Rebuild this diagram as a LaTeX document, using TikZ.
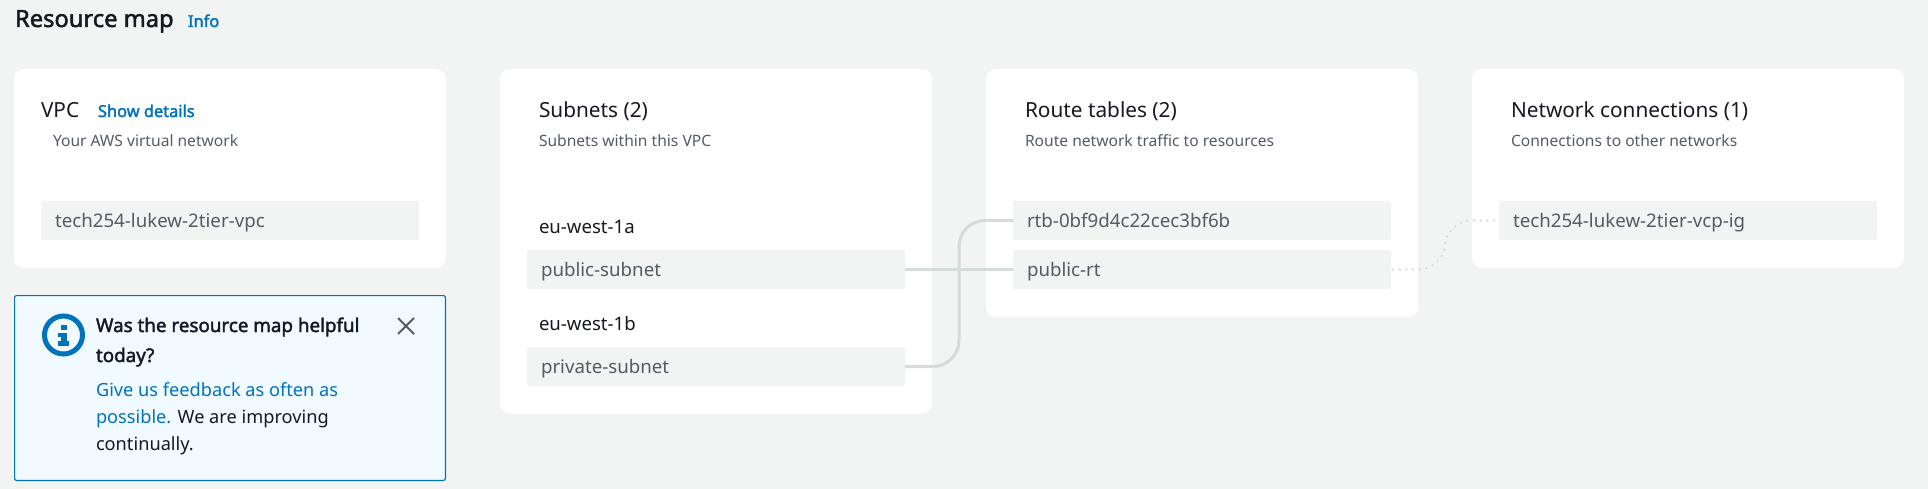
\documentclass[tikz,border=0pt]{standalone}
\usepackage{fontspec}
\setmainfont{Noto Sans}[AutoFakeBold=2]
\definecolor{pagebg}{HTML}{F2F3F3}
\definecolor{ink}{HTML}{16191F}
\definecolor{muted}{HTML}{545B64}
\definecolor{linkblue}{HTML}{0073BB}
\definecolor{noteFill}{HTML}{F1FAFF}
\definecolor{wire}{HTML}{D5DBDB}
\newcommand{\fs}[1]{\fontsize{#1}{#1}\selectfont}
\tikzset{
  x=1pt,y=-1pt,
  txt/.style={anchor=base west,inner sep=0pt,outer sep=0pt},
  cardbox/.style={fill=white,rounded corners=10pt},
  pill/.style={fill=pagebg,rounded corners=2pt,minimum width=378pt,minimum height=39pt,inner sep=0pt,outer sep=0pt},
  title/.style={txt,text=ink,font=\fs{23.7}\bfseries},
  head/.style={txt,text=ink,font=\fs{20.8}},
  sub/.style={txt,text=muted,font=\fs{15.6}},
  linkb/.style={txt,text=linkblue,font=\fs{16.4}\bfseries},
  item/.style={txt,text=muted,font=\fs{18.7}},
  zone/.style={txt,text=ink,font=\fs{18.6}},
  note/.style={txt,text=ink,font=\fs{18.2}},
  noteb/.style={txt,text=ink,font=\fs{18.8}\bfseries},
  wirebase/.style={draw=wire,line width=3pt},
  wiredot/.style={draw=wire,line width=2.6pt,line cap=round,dash pattern=on 0pt off 6.7pt},
}
\begin{document}
\begin{tikzpicture}
\fill[pagebg] (0,0) rectangle (1928,489);
\useasboundingbox (0,0) rectangle (1928,489);
% cards
\fill[cardbox] (14,69) rectangle (446,268);
\fill[cardbox] (500,69) rectangle (932,414);
\fill[cardbox] (986,69) rectangle (1418,317);
\fill[cardbox] (1472,69) rectangle (1904,268);
% feedback panel
\draw[fill=noteFill,draw=linkblue,line width=1.2pt,rounded corners=2pt] (14.6,295.6) rectangle (445.4,480.4);
% pills
\node[pill] (vpc) at (230,220.5) {};
\node[pill] (pubsub) at (716,269.5) {};
\node[pill] (privsub) at (716,366.5) {};
\node[pill] (rtb) at (1202,220.5) {};
\node[pill] (pubrt) at (1202,269.5) {};
\node[pill] (igw) at (1688,220.5) {};
% connectors
\coordinate (riseA) at (959,294);
\coordinate (dotA) at (1418,269.5);
\coordinate (dotB) at (1445,245);
\coordinate (dotC) at (1472,220.5);
\draw[wirebase] (pubsub.east) -- (pubrt.west);
\draw[wirebase,rounded corners=26pt] (privsub.east) -| (riseA) |- (rtb.west);
\draw[wiredot] ([xshift=2pt]pubrt.east) -- (dotA) .. controls +(18,0) and +(0,9) .. (dotB) .. controls +(0,-9) and +(-18,0) .. (dotC) -- ([xshift=-2pt]igw.west);
% texts
\node[title] (t0) at (15,27) {Resource map};
\node[linkb] (t1) at (188,27) {Info};
\node[head] (t2) at (41,118) {VPC};
\node[linkb] (t3) at (98,117) {Show details};
\node[sub] (t4) at (53,146.5) {Your AWS virtual network};
\node[item] (t5) at (55,227.7) {tech254-lukew-2tier-vpc};
\node[head] (t6) at (539,118) {Subnets (2)};
\node[sub] (t7) at (539,146.5) {Subnets within this VPC};
\node[zone] (t8) at (539,233.5) {eu-west-1a};
\node[item] (t9) at (541,276.7) {public-subnet};
\node[zone] (t10) at (539,330.5) {eu-west-1b};
\node[item] (t11) at (541,373.7) {private-subnet};
\node[head] (t12) at (1025,118) {Route tables (2)};
\node[sub] (t13) at (1025,146.5) {Route network traffic to resources};
\node[item] (t14) at (1027,227.7) {rtb-0bf9d4c22cec3bf6b};
\node[item] (t15) at (1027,276.7) {public-rt};
\node[head] (t16) at (1511,118) {Network connections (1)};
\node[sub] (t17) at (1511,146.5) {Connections to other networks};
\node[item] (t18) at (1513,227.7) {tech254-lukew-2tier-vcp-ig};
% feedback text
\node[noteb] (n1) at (96,332) {Was the resource map helpful};
\node[noteb] (n2) at (96,362) {today?};
\node[note,text=linkblue] (n3) at (96,396) {Give us feedback as often as};
\node[note] (n4) at (96,423) {\textcolor{linkblue}{possible.} We are improving};
\node[note] (n5) at (96,450) {continually.};
% info icon
\draw[draw=linkblue,line width=5pt] (63.5,335) circle (19pt);
\fill[linkblue] (61,325) rectangle (66.5,330);
\fill[linkblue] (58,333) rectangle (66.5,337);
\fill[linkblue] (61,333) rectangle (66.5,341);
\fill[linkblue] (58,340.5) rectangle (69,346);
% close icon
\draw[draw=muted,line width=2pt] (398,318) -- (414,334) (414,318) -- (398,334);
\end{tikzpicture}
\end{document}
